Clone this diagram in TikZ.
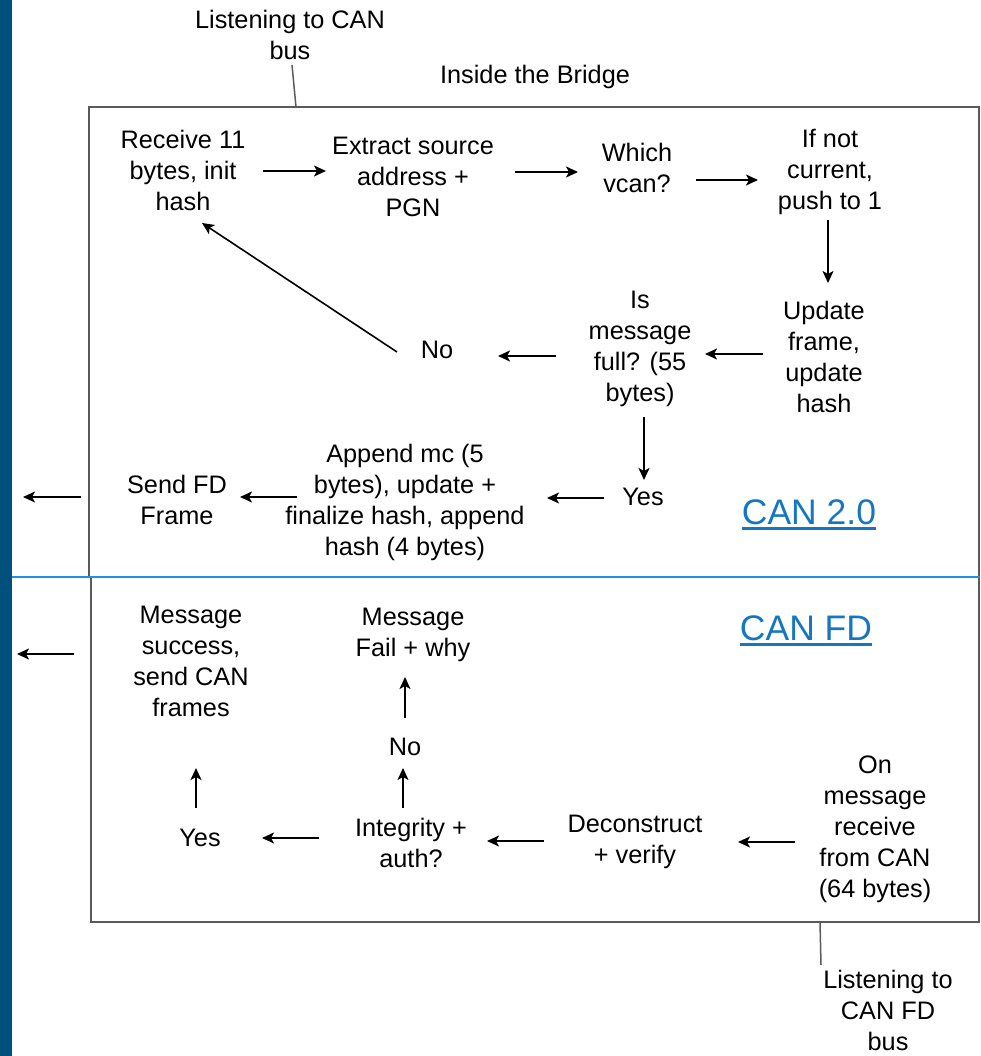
\documentclass[tikz,border=0pt]{standalone}
\usepackage{fontspec}
\setmainfont{Liberation Sans}
\usetikzlibrary{arrows.meta}
\definecolor{barblue}{RGB}{0,80,125}
\definecolor{lineblue}{RGB}{30,144,230}
\definecolor{linkblue}{RGB}{21,118,193}
\definecolor{boxgray}{RGB}{90,90,90}
\begin{document}
\begin{tikzpicture}[x=1pt,y=-1pt,
  txt/.style={align=center,inner sep=0pt,font=\fontsize{25.3}{31}\selectfont},
  link/.style={inner sep=0pt,text=linkblue,font=\fontsize{35.5}{40}\selectfont},
  flow/.style={-{Stealth[length=12pt,width=11pt,inset=3pt]},line width=1.6pt},
  box/.style={draw=boxgray,line width=2pt}]
  \useasboundingbox (0,0) rectangle (980,1056);

  % barra e riquadri
  \fill[barblue] (0,0) rectangle (12,1056);
  \draw[box] (89,107) rectangle (978.5,577);
  \draw[box] (91,577) rectangle (978.5,922);
  \draw[lineblue,line width=2pt] (12,577) -- (980,577);

  % esterno
  \node[txt] (listenA) at (290,35) {Listening to CAN\\bus};
  \node[txt] (inside) at (535,77) {Inside the Bridge};
  \node[txt] (listenB) at (888,1010) {Listening to\\CAN FD\\bus};
  \coordinate (busA) at (296,107);
  \coordinate (busB) at (820,922);
  \coordinate (outA) at (23,497);
  \coordinate (outB) at (17,654);
  \draw[boxgray,line width=1.5pt] ([shift={(2,30)}]listenA.center) -- (busA);
  \draw[boxgray,line width=1.5pt] (busB) -- ([shift={(-67,-45)}]listenB.center);

  % nodi CAN 2.0
  \node[txt] (recv) at (183,170) {Receive 11\\bytes, init\\hash};
  \node[txt] (extract) at (413,177) {Extract source\\address +\\PGN};
  \node[txt] (vcan) at (637,168) {Which\\vcan?};
  \node[txt] (push) at (830,172) {If not\\current,\\push to 1};
  \node[txt] (update) at (824,357) {Update\\frame,\\update\\hash};
  \node[txt] (full) at (640,349) {Is\\message\\full? (55\\bytes)};
  \node[txt] (noA) at (437,350) {No};
  \node[txt] (yesA) at (643,497) {Yes};
  \node[txt] (append) at (405,502) {Append mc (5\\bytes), update +\\finalize hash, append\\hash (4 bytes)};
  \node[txt] (send) at (177,500) {Send FD\\Frame};
  \node[link] (can2) at (809,512) {CAN 2.0};
  \draw[linkblue,line width=2.5pt] ([yshift=-3.5pt]can2.south west) -- ([yshift=-3.5pt]can2.south east);

  % frecce CAN 2.0
  \draw[flow] ([shift={(80,1)}]recv.center) -- ([shift={(-87,-6)}]extract.center);
  \draw[flow] ([shift={(102,-5)}]extract.center) -- ([shift={(-59,4)}]vcan.center);
  \draw[flow] ([shift={(59,12)}]vcan.center) -- ([shift={(-72,8)}]push.center);
  \draw[flow] ([shift={(-2,48)}]push.center) -- ([shift={(4,-74)}]update.center);
  \draw[flow] ([shift={(-61,-3)}]update.center) -- ([shift={(65,5)}]full.center);
  \draw[flow] ([shift={(-84,7)}]full.center) -- ([shift={(61,6)}]noA.center);
  \draw[flow] ([shift={(-40,2)}]noA.center) -- ([shift={(19,53)}]recv.center);
  \draw[flow] ([shift={(4,68)}]full.center) -- ([shift={(1,-17)}]yesA.center);
  \draw[flow] ([shift={(-39,1)}]yesA.center) -- ([shift={(142,-4)}]append.center);
  \draw[flow] ([shift={(-108,-5)}]append.center) -- ([shift={(63,-3)}]send.center);
  \draw[flow] ([shift={(-96,-3)}]send.center) -- (outA);

  % nodi CAN FD
  \node[txt] (onmsg) at (875,829) {On\\message\\receive\\from CAN\\(64 bytes)};
  \node[txt] (decon) at (635,842) {Deconstruct\\+ verify};
  \node[txt] (integ) at (411,843) {Integrity +\\auth?};
  \node[txt] (yesB) at (200,838) {Yes};
  \node[txt] (noB) at (405,747) {No};
  \node[txt] (fail) at (413,635) {Message\\Fail + why};
  \node[txt] (success) at (191,661) {Message\\success,\\send CAN\\frames};
  \node[link] (canfd) at (806,628) {CAN FD};
  \draw[linkblue,line width=2.5pt] ([yshift=-3.5pt]canfd.south west) -- ([yshift=-3.5pt]canfd.south east);

  % frecce CAN FD
  \draw[flow] ([shift={(-80,13)}]onmsg.center) -- ([shift={(103,0)}]decon.center);
  \draw[flow] ([shift={(-91,-1)}]decon.center) -- ([shift={(76,-2)}]integ.center);
  \draw[flow] ([shift={(-92,-5)}]integ.center) -- ([shift={(62,0)}]yesB.center);
  \draw[flow] ([shift={(-4,-30)}]yesB.center) -- ([shift={(5,107)}]success.center);
  \draw[flow] ([shift={(-8,-35)}]integ.center) -- ([shift={(-2,21)}]noB.center);
  \draw[flow] ([shift={(0,-29)}]noB.center) -- ([shift={(-8,42)}]fail.center);
  \draw[flow] ([shift={(-117,-7)}]success.center) -- (outB);
\end{tikzpicture}
\end{document}
